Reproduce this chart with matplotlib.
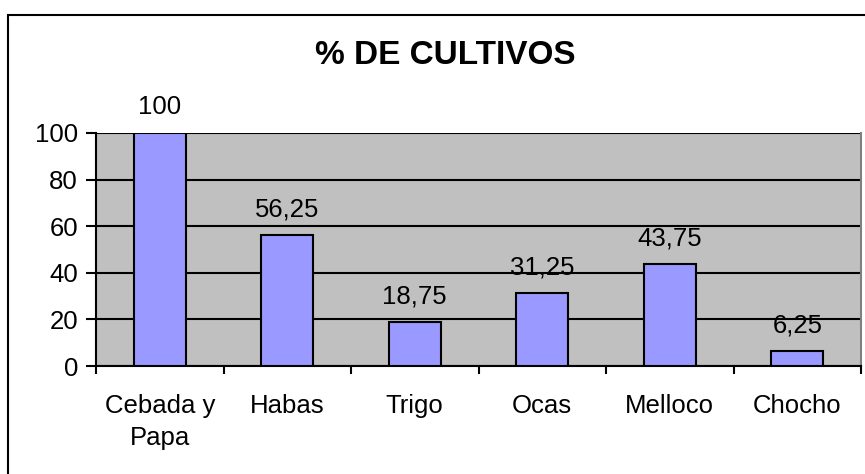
import numpy as np
import matplotlib
matplotlib.use('Agg')
import matplotlib.pyplot as plt
from matplotlib.patches import Rectangle

categories = ['Cebada y\nPapa', 'Habas', 'Trigo', 'Ocas', 'Melloco', 'Chocho']
values = [100, 56.25, 18.75, 31.25, 43.75, 6.25]
value_labels = ['100', '56,25', '18,75', '31,25', '43,75', '6,25']
yticks = [0, 20, 40, 60, 80, 100]

plt.rcParams['font.family'] = ['Liberation Sans', 'DejaVu Sans']

W, H = 865, 474
fig = plt.figure(figsize=(W / 100, H / 100), dpi=100)

# outer chart border (right and bottom edges run off the picture)
fig.patches.append(Rectangle((8 / W, -0.1), 1.0, 1 - 15 / H + 0.1,
                             transform=fig.transFigure, fill=False,
                             edgecolor='black', linewidth=1.5))

ax = fig.add_axes([96 / W, 1 - 366 / H, (861 - 96) / W, (366 - 133) / H])
ax.set_facecolor('#C0C0C0')

x = np.arange(len(categories))
ax.bar(x, values, width=0.41, color='#9999FF', edgecolor='black',
       linewidth=1.5, zorder=3)

ax.set_xlim(-0.5, len(categories) - 0.5)
ax.set_ylim(0, 100)
ax.set_yticks(yticks)
ax.set_yticklabels([str(v) for v in yticks], fontsize=18.5)
ax.yaxis.grid(True, color='black', linewidth=1.5, zorder=1)
ax.set_axisbelow(True)

# category labels between boundary ticks
ax.set_xticks(np.arange(len(categories) + 1) - 0.5)
ax.set_xticklabels([])
ax.set_xticks(x, minor=True)
ax.set_xticklabels(categories, minor=True, fontsize=18.5, linespacing=1.45)
ax.tick_params(axis='x', which='minor', length=0, pad=20)
ax.tick_params(axis='x', which='major', length=6, width=1.5, direction='out')
ax.tick_params(axis='y', length=7, width=1.5, direction='out', pad=6)

ax.spines['top'].set_visible(False)
for s in ['left', 'bottom', 'right']:
    ax.spines[s].set_linewidth(1.5)
ax.spines['right'].set_color('#808080')

for xi, v, lab in zip(x, values, value_labels):
    ax.annotate(lab, (xi, v), xytext=(0, 10), textcoords='offset points',
                ha='center', va='bottom', fontsize=18.5)

fig.text(445 / W, 1 - 55 / H, '% DE CULTIVOS', ha='center', va='center',
         fontsize=24, fontweight='bold')

fig.savefig('out.png', dpi=100)
